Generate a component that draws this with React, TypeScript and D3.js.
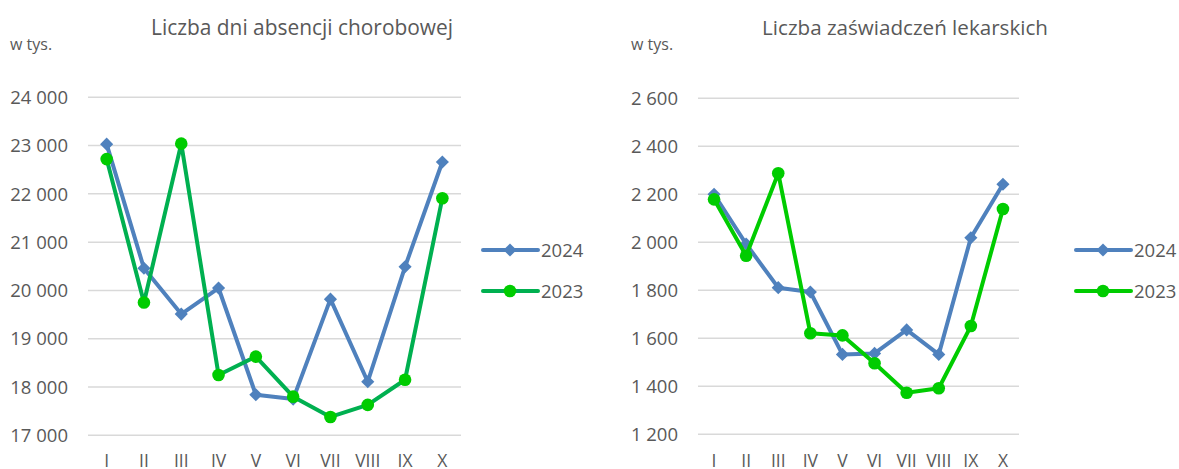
import React from 'react';
import { scaleBand, scaleLinear, line, symbol, symbolDiamond2 } from 'd3';

const months = ['I', 'II', 'III', 'IV', 'V', 'VI', 'VII', 'VIII', 'IX', 'X'];

const daysTitle = 'Liczba dni absencji chorobowej';
const days2024 = [23030, 20460, 19510, 20050, 17840, 17750, 19820, 18110, 20490, 22660];
const days2023 = [22720, 19750, 23040, 18250, 18630, 17800, 17380, 17630, 18150, 21910];
const daysTicks = [17000, 18000, 19000, 20000, 21000, 22000, 23000, 24000];

const certTitle = 'Liczba zaświadczeń lekarskich';
const cert2024 = [2200, 1993, 1811, 1793, 1533, 1537, 1635, 1533, 2019, 2242];
const cert2023 = [2179, 1944, 2288, 1621, 1612, 1496, 1373, 1392, 1651, 2139];
const certTicks = [1200, 1400, 1600, 1800, 2000, 2200, 2400, 2600];

const seriesNames = ['2024', '2023'];

const FONT = '"Open Sans", sans-serif';
const TXT = '#595959';
const BLUE = '#4F81BD';

// "24000" -> "24 000"
const fmt = (v) => {
  const s = String(v);
  return s.length > 3 ? s.slice(0, s.length - 3) + ' ' + s.slice(-3) : s;
};

const Panel = ({ title, titleX, titleSize, unitX, tickRight, plot, ticks, blue, green, greenLine, greenDot, legendX }) => {
  const xScale = scaleBand().domain(months).range([plot.x0, plot.x1]);
  const yScale = scaleLinear().domain([ticks[0], ticks[ticks.length - 1]]).range([plot.yBottom, plot.yTop]);
  const cx = (m) => xScale(m) + xScale.bandwidth() / 2;

  const path = (vals) => line().x((d, i) => cx(months[i])).y((d) => yScale(d))(vals);
  const diamond = symbol().type(symbolDiamond2).size(110)();

  return (
    <g fontFamily={FONT}>
      <text x={titleX} y={35} textAnchor="middle" fontSize={titleSize} fill={TXT}>{title}</text>
      <text x={unitX} y={50} fontSize={16} fill={TXT}>w tys.</text>
      {ticks.map((t) => (
        <g key={t}>
          <line x1={plot.x0} x2={plot.x1} y1={yScale(t)} y2={yScale(t)} stroke="#D9D9D9" strokeWidth={1.5} />
          <text x={tickRight} y={yScale(t)} dy="0.36em" textAnchor="end" fontSize={18.5} fill={TXT}>{fmt(t)}</text>
        </g>
      ))}
      {months.map((m) => (
        <text key={m} x={cx(m)} y={467} textAnchor="middle" fontSize={17.5} fill={TXT}>{m}</text>
      ))}
      <path d={path(blue)} fill="none" stroke={BLUE} strokeWidth={4} strokeLinejoin="round" />
      {blue.map((v, i) => (
        <path key={i} d={diamond} transform={`translate(${cx(months[i])},${yScale(v)})`} fill={BLUE} />
      ))}
      <path d={path(green)} fill="none" stroke={greenLine} strokeWidth={4} strokeLinejoin="round" />
      {green.map((v, i) => (
        <circle key={i} cx={cx(months[i])} cy={yScale(v)} r={6.3} fill={greenDot} />
      ))}
      {seriesNames.map((name, i) => {
        const y = i === 0 ? 250 : 291;
        return (
          <g key={name}>
            <line x1={legendX} x2={legendX + 55} y1={y} y2={y} stroke={i === 0 ? BLUE : greenLine} strokeWidth={4} strokeLinecap="round" />
            {i === 0
              ? <path d={diamond} transform={`translate(${legendX + 27},${y})`} fill={BLUE} />
              : <circle cx={legendX + 27} cy={y} r={6.3} fill={greenDot} />}
            <text x={legendX + 58} y={y} dy="0.36em" fontSize={18.5} fill={TXT}>{name}</text>
          </g>
        );
      })}
    </g>
  );
};

export default function App() {
  return (
    <svg width={1179} height={469} style={{ position: 'absolute', left: 0, top: 0, background: '#fff' }}>
      <Panel
        title={daysTitle}
        titleX={302}
        titleSize={20.9}
        unitX={10}
        tickRight={68}
        plot={{ x0: 88, x1: 461, yTop: 97.3, yBottom: 435.3 }}
        ticks={daysTicks}
        blue={days2024}
        green={days2023}
        greenLine="#00B050"
        greenDot="#00CC00"
        legendX={483}
      />
      <Panel
        title={certTitle}
        titleX={905}
        titleSize={20.6}
        unitX={631}
        tickRight={678}
        plot={{ x0: 698, x1: 1019, yTop: 98.3, yBottom: 434.3 }}
        ticks={certTicks}
        blue={cert2024}
        green={cert2023}
        greenLine="#00CC00"
        greenDot="#00CC00"
        legendX={1076}
      />
    </svg>
  );
}
